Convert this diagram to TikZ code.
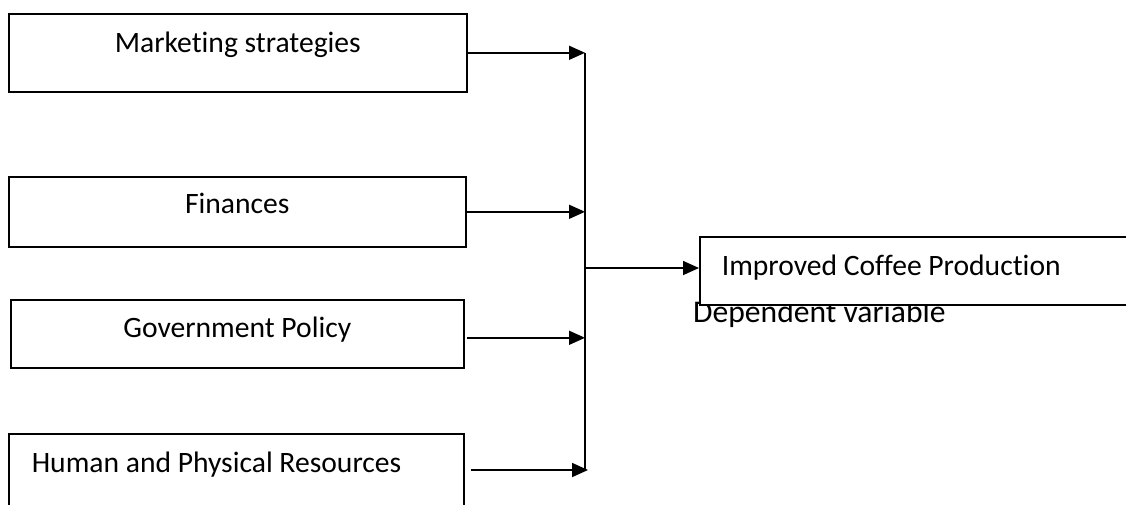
\documentclass[tikz,border=0pt]{standalone}
\usepackage{fontspec}
\setmainfont{Carlito}[Ligatures={NoCommon,NoContextual},RawFeature={-calt}]
\usetikzlibrary{arrows.meta,positioning}

\tikzset{
  varbox/.style={draw,line width=1.6pt,fill=white,inner sep=0pt,anchor=north west},
  conn/.style={line width=1.6pt,-{Triangle[length=16pt,width=14pt]}}
}

\begin{document}
\begin{tikzpicture}[x=1pt,y=-1pt,font=\fontsize{29.6}{36}\selectfont]
              \useasboundingbox (0,0) rectangle (1126,504);
              \clip (0,0) rectangle (1126,504);
              \node[varbox,minimum width=458pt,text height=39pt,text depth=39pt](mkt)at(8,13){Marketing strategies};
              \node[varbox,minimum width=457pt,text height=37pt,text depth=33pt](fin)at(8,176){Finances};
              \node[varbox,minimum width=453pt,text height=38pt,text depth=30pt](gov)at(10,299){Government Policy};
              \node[varbox,inner xsep=23pt,text width=409pt,align=flush left,text height=39pt,text depth=70pt](hum)at(8,433){Human and Physical Resources};
              \node[anchor=base west,inner sep=0pt,font=\fontsize{31.6}{38}\selectfont](dep)at(693,322){Dependent variable};
              \node[varbox,inner xsep=22pt,text width=440pt,align=flush left,text height=39pt,text depth=29pt](prod)at(699,236){Improved Coffee Production};
              \coordinate(bt)at(585,53);
              \coordinate(bm)at(585,268);
              \coordinate(bb)at(585,470);
              \draw[line width=1.6pt](bt)--(bb);
              \draw[conn](mkt.east)--(mkt.east -| bt);
              \draw[conn](fin.east)--(fin.east -| bt);
              \coordinate(govout)at([shift={(2pt,-4pt)}]gov.east);
              \draw[conn](govout)--(govout -| bt);
              \coordinate(humout)at([shift={(6pt,-37pt)}]hum.north east);
              \coordinate(humin)at([xshift=3pt]bb);
              \draw[conn](humout)--(humin);
              \draw[conn](bm)--(bm -| prod.west);
            \end{tikzpicture}
\end{document}
